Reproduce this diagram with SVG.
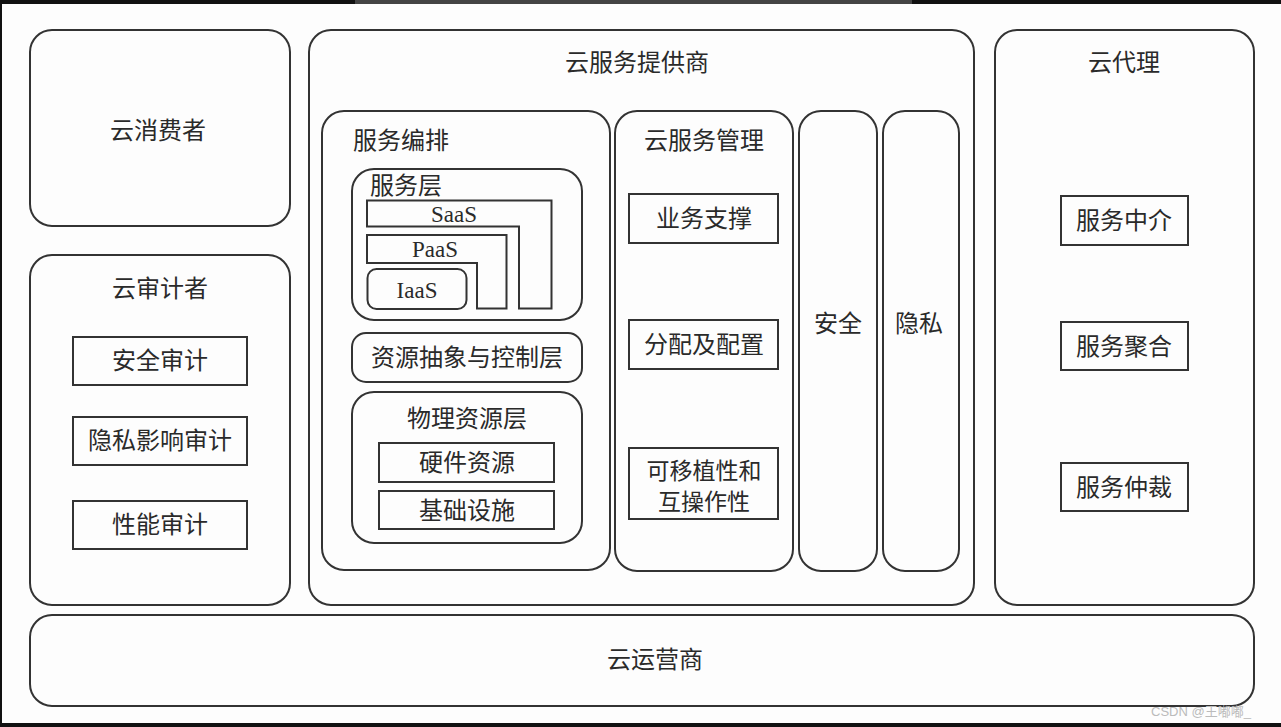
<svg xmlns="http://www.w3.org/2000/svg" width="1281" height="727" viewBox="0 0 1281 727">
<style>
.b{fill:#fdfdfd;stroke:#333;stroke-width:2}
.r{fill:none;stroke:#333;stroke-width:2}
.t{font-family:"Noto Sans CJK SC","Noto Sans",sans-serif;font-size:24px;fill:#2a2a2a;text-anchor:middle}
.s{font-family:"Liberation Serif",serif;font-size:23px;fill:#2a2a2a;text-anchor:middle}
.w{font-family:"Liberation Sans","Noto Sans CJK SC",sans-serif;font-size:13px;fill:#bbb}
</style>
<rect x="0" y="0" width="1281" height="727" fill="#fdfdfd"/>
<rect x="0" y="0" width="1281" height="4" fill="#111"/>
<rect x="355" y="0" width="557" height="4" fill="#444"/>
<rect x="0" y="0" width="2" height="727" fill="#111"/>
<rect x="0" y="723" width="1281" height="4" fill="#111"/>

<g id="consumer">
<rect class="b" x="30" y="30" width="260" height="196" rx="22"/>
<text class="t" x="158" y="139">云消费者</text>
</g>

<g id="auditor">
<rect class="b" x="30" y="255" width="260" height="350" rx="22"/>
<text class="t" x="160" y="297">云审计者</text>
<g id="security-audit"><rect class="r" x="73" y="337" width="174" height="48"/><text class="t" x="160" y="369">安全审计</text></g>
<g id="privacy-audit"><rect class="r" x="73" y="417" width="174" height="48"/><text class="t" x="160" y="449">隐私影响审计</text></g>
<g id="perf-audit"><rect class="r" x="73" y="501" width="174" height="48"/><text class="t" x="160" y="533">性能审计</text></g>
</g>

<g id="provider">
<rect class="b" x="309" y="30" width="665" height="575" rx="22"/>
<text class="t" x="637" y="71">云服务提供商</text>
<g id="orchestration">
<rect class="r" x="322" y="111" width="288" height="459" rx="22"/>
<text class="t" x="401" y="149">服务编排</text>
<g id="service-layer">
<rect class="r" x="352" y="169" width="230" height="151" rx="22"/>
<text class="t" x="406" y="194">服务层</text>
<path class="r" d="M367 200.5H551.5V308.5H519V226.5H367Z"/>
<text class="s" x="454" y="222">SaaS</text>
<path class="r" d="M367 235H506.5V308.5H477V263H367Z"/>
<text class="s" x="435" y="257">PaaS</text>
<rect class="r" x="367.5" y="269" width="99" height="40" rx="9"/>
<text class="s" x="417" y="298">IaaS</text>
</g>
<g id="abstraction-layer">
<rect class="r" x="352" y="333" width="230" height="49" rx="14"/>
<text class="t" x="467" y="366">资源抽象与控制层</text>
</g>
<g id="physical-layer">
<rect class="r" x="352" y="392" width="230" height="151" rx="22"/>
<text class="t" x="467" y="427">物理资源层</text>
<rect class="r" x="379" y="443" width="175" height="39"/>
<text class="t" x="467" y="471">硬件资源</text>
<rect class="r" x="379" y="491" width="175" height="38"/>
<text class="t" x="467" y="519">基础设施</text>
</g>
</g>
<g id="management">
<rect class="r" x="615" y="111" width="178" height="460" rx="22"/>
<text class="t" x="704" y="149">云服务管理</text>
<g id="biz-support"><rect class="r" x="629" y="194" width="149" height="49"/><text class="t" x="704" y="227">业务支撑</text></g>
<g id="provisioning"><rect class="r" x="629" y="320" width="149" height="49"/><text class="t" x="704" y="353">分配及配置</text></g>
<g id="portability"><rect class="r" x="629" y="448" width="149" height="71"/><text class="t" x="704" y="479" style="font-size:23px">可移植性和</text><text class="t" x="704" y="510" style="font-size:23px">互操作性</text></g>
</g>
<g id="security">
<rect class="r" x="799" y="111" width="78" height="460" rx="22"/>
<text class="t" x="838" y="332">安全</text>
</g>
<g id="privacy">
<rect class="r" x="883" y="111" width="76" height="460" rx="22"/>
<text class="t" x="919" y="332">隐私</text>
</g>
</g>

<g id="broker">
<rect class="b" x="995" y="30" width="259" height="575" rx="22"/>
<text class="t" x="1124" y="71">云代理</text>
<g id="intermediation"><rect class="r" x="1061" y="196" width="127" height="49"/><text class="t" x="1124" y="229">服务中介</text></g>
<g id="aggregation"><rect class="r" x="1061" y="322" width="127" height="48"/><text class="t" x="1124" y="355">服务聚合</text></g>
<g id="arbitrage"><rect class="r" x="1061" y="463" width="127" height="48"/><text class="t" x="1124" y="496">服务仲裁</text></g>
</g>

<g id="carrier">
<rect class="b" x="30" y="615" width="1224" height="91" rx="22"/>
<text class="t" x="655" y="668">云运营商</text>
</g>

<g id="connectors"></g>

<text class="w" x="1151" y="716">CSDN @王嘟嘟_</text>
</svg>
